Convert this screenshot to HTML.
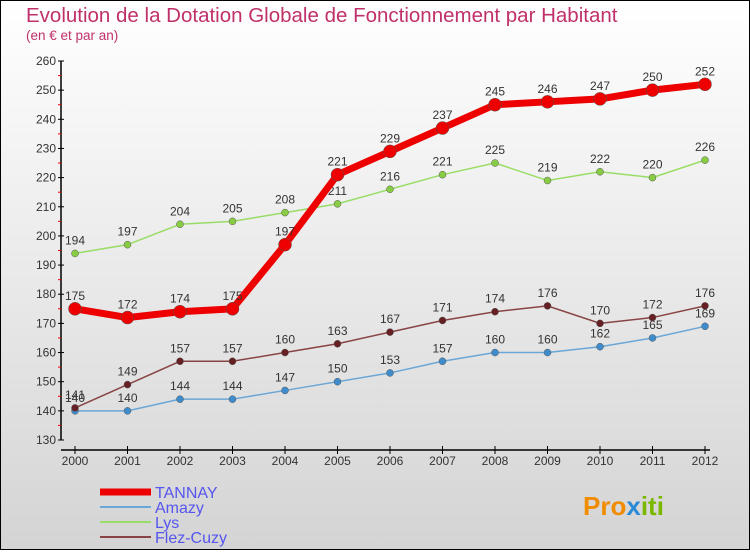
<!DOCTYPE html>
<html><head><meta charset="utf-8"><style>
html,body{margin:0;padding:0}
body{width:750px;height:550px;overflow:hidden;font-family:"Liberation Sans",sans-serif}
</style></head><body>
<svg id="chart" width="750" height="550" xmlns="http://www.w3.org/2000/svg">
<defs><linearGradient id="bg" x1="0" y1="0" x2="0" y2="1"><stop offset="0" stop-color="#ffffff"/><stop offset="1" stop-color="#d4d4d4"/></linearGradient></defs>
<rect x="0.5" y="0.5" width="749" height="549" fill="url(#bg)" stroke="#000" stroke-width="1"/>
<text x="26" y="22" font-size="20.5" fill="#c0306a">Evolution de la Dotation Globale de Fonctionnement par Habitant</text>
<text x="26" y="40" font-size="13.5" fill="#c0306a">(en € et par an)</text>
<g id="axes"></g><g id="series"></g><g id="legend"></g>
<text x="583" y="515" font-size="26" font-weight="bold" fill="#f08c00">Pro<tspan fill="#2a8ad8">x</tspan><tspan fill="#7ab800">iti</tspan></text>
</svg>
<script>
const years=[2000,2001,2002,2003,2004,2005,2006,2007,2008,2009,2010,2011,2012];
const yTicks=[130,140,150,160,170,180,190,200,210,220,230,240,250,260];
const tannay=[175,172,174,175,197,221,229,237,245,246,247,250,252];
const amazy=[140,140,144,144,147,150,153,157,160,160,162,165,169];
const lys=[194,197,204,205,208,211,216,221,225,219,222,220,226];
const flez=[141,149,157,157,160,163,167,171,174,176,170,172,176];
const NS="http://www.w3.org/2000/svg";
const X=i=>75+i*52.5;
const Y=v=>61+(260-v)*(379/130);
function mk(t,a,p){const e=document.createElementNS(NS,t);for(const k in a)e.setAttribute(k,a[k]);p.appendChild(e);return e;}
const ax=document.getElementById('axes');
let l=mk('line',{x1:61,y1:61,x2:61,y2:440,stroke:'#000','stroke-width':1.5},ax);


l=mk('line',{x1:61,y1:450,x2:710,y2:450,stroke:'#000','stroke-width':1.5},ax);


yTicks.forEach((v,i)=>{
 mk('line',{x1:58,y1:Y(v),x2:64,y2:Y(v),stroke:'#000'},ax);
 if(i<yTicks.length-1) mk('line',{x1:58,y1:Y(v+5),x2:61,y2:Y(v+5),stroke:'#e00'},ax);
 const t=mk('text',{x:56,y:Y(v)+4,'font-size':12,'text-anchor':'end',fill:'#333'},ax);
 
 
 t.textContent=v;
});
years.forEach((yr,i)=>{
 mk('line',{x1:X(i),y1:446,x2:X(i),y2:454,stroke:'#000'},ax);
 const t=mk('text',{x:X(i),y:465,'font-size':12,'text-anchor':'middle',fill:'#333'},ax);
 
 
 t.textContent=yr;
});
const sg=document.getElementById('series');
const defs=[
 {d:lys,c:'#99dd66',m:'#88cc44',w:1.5,r:3.5,n:'lys'},
 {d:amazy,c:'#6aa6d6',m:'#3f8ccc',w:1.5,r:3.5,n:'amazy'},
 {d:flez,c:'#884444',m:'#661f22',w:1.5,r:3.5,n:'flez-cuzy'},
 {d:tannay,c:'#ee0000',m:'#ee0000',w:7,r:6.5,n:'tannay'}];
defs.forEach(s=>{
 const g=mk('g',{},sg);
 
 
 const p=mk('polyline',{points:s.d.map((v,i)=>X(i)+','+Y(v)).join(' '),fill:'none',stroke:s.c,'stroke-width':s.w},g);
 
 
 s.d.forEach((v,i)=>{
  const c=mk('circle',{cx:X(i),cy:Y(v),r:s.r,fill:s.m,stroke:'#555','stroke-width':0.5},g);
  
  
  const t=mk('text',{x:X(i),y:Y(v)-9,'font-size':12,'text-anchor':'middle',fill:'#333'},g);
  
  
  t.textContent=v;
 });
});
const lg=document.getElementById('legend');
const ld=[['TANNAY','#ee0000',7],['Amazy','#6aa6d6',2],['Lys','#99dd66',2],['Flez-Cuzy','#884444',2]];
ld.forEach((e,i)=>{
 const y=492+i*15;
 const li=mk('line',{x1:100,y1:y,x2:151,y2:y,stroke:e[1],'stroke-width':e[2]},lg);
 
 
 const t=mk('text',{x:155,y:y+6,'font-size':16,fill:'#5555ee'},lg);
 
 
 t.textContent=e[0];
});
</script>
</body></html>
